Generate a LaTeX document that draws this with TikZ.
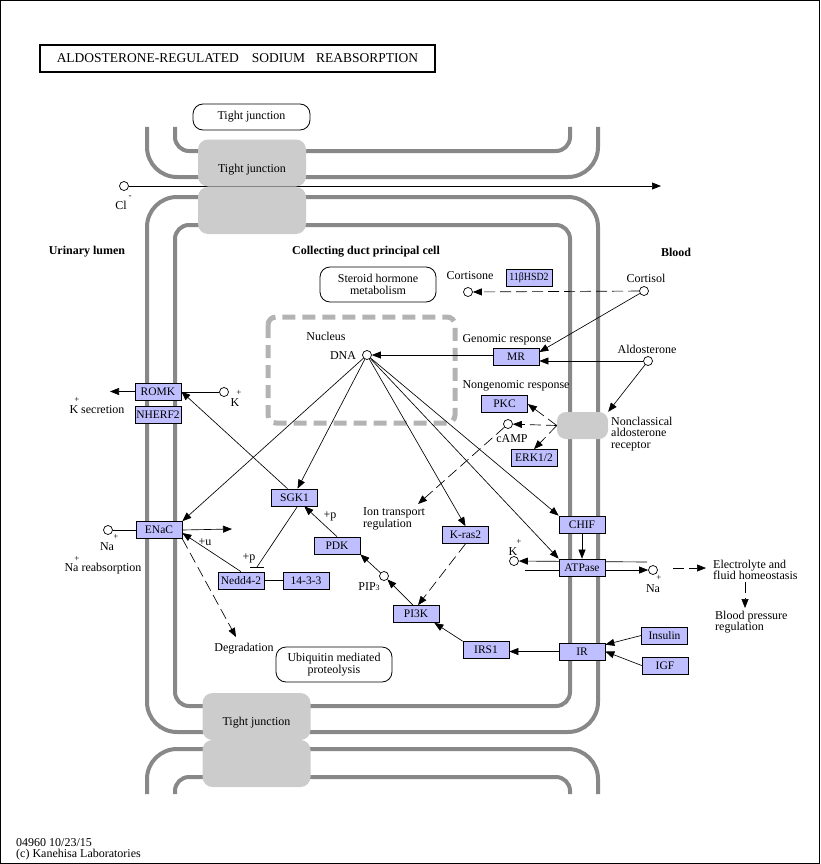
\documentclass[tikz,border=0pt]{standalone}
\usepackage{fontspec}
\setmainfont{Liberation Serif}
\usetikzlibrary{arrows.meta,calc}
\pgfdeclarelayer{background}
\pgfdeclarelayer{conn}
\pgfsetlayers{background,conn,main}
\definecolor{genefill}{HTML}{BFBFFF}
\definecolor{memgray}{HTML}{888888}
\definecolor{tjgray}{HTML}{CCCCCC}
\definecolor{nucgray}{HTML}{B3B3B3}
\newcommand{\kfont}{\fontsize{12}{11.3}\selectfont}
\newcommand{\kgfont}{\fontsize{11.5}{11.5}\selectfont}
\newcommand{\kbold}{\fontsize{12}{11.3}\selectfont\bfseries}
\begin{document}
\begin{tikzpicture}[x=1pt,y=-1pt,
  gene/.style={draw, fill=genefill, minimum width=46pt, minimum height=17pt, inner sep=0pt, font=\kgfont, line width=0.7pt},
  cpd/.style={circle, draw, fill=white, minimum size=9pt, inner sep=0pt, line width=0.7pt},
  lbl/.style={inner sep=0pt, font=\kfont, align=center},
  lbll/.style={inner sep=0pt, font=\kfont, align=left, anchor=west},
  bl/.style={inner sep=0pt, font=\kbold},
  sup/.style={inner sep=0pt, font=\fontsize{9}{9}\selectfont},
  act/.style={-{Triangle[length=9pt,width=7pt]}, line width=0.65pt},
  dsh/.style={act, dash pattern=on 11pt off 5pt},
  plain/.style={line width=0.65pt},
  mem/.style={draw=memgray, line width=4pt},
  tj/.style={fill=tjgray, rounded corners=10pt, minimum width=108pt, minimum height=47pt, inner sep=0pt},
  rbox/.style={draw, rounded corners=10pt, line width=0.8pt, inner sep=0pt, font=\kfont, align=center}]
\useasboundingbox (0,0) rectangle (820,864);
\draw[line width=1pt] (0.5,0.5) rectangle (819.5,863.5);

% membranes
\begin{pgfonlayer}{background}
\draw[mem, rounded corners=30pt] (147,127) -- (147,177) -- (598,177) -- (598,127);
\draw[mem, rounded corners=14pt] (175,127) -- (175,151) -- (570,151) -- (570,127);
\draw[mem, rounded corners=30pt] (147,197) rectangle (598,732);
\draw[mem, rounded corners=14pt] (175,225) rectangle (570,706);
\draw[mem, rounded corners=30pt] (147,794) -- (147,749) -- (598,749) -- (598,794);
\draw[mem, rounded corners=14pt] (175,794) -- (175,777) -- (570,777) -- (570,794);
\draw[draw=nucgray, line width=5pt, dash pattern=on 13pt off 7pt, rounded corners=8pt] (268,317) rectangle (455,423);
\end{pgfonlayer}

% title
\node[draw, line width=1.6pt, minimum width=395pt, minimum height=27pt, inner sep=0pt, font=\fontsize{13.5}{13.5}\selectfont] (title) at (237.5,58.5) {ALDOSTERONE-REGULATED\hspace{13pt}SODIUM\hspace{11pt}REABSORPTION};

% tight junctions
\node[tj] (tj1) at (252,163) {};
\node[tj] (tj2) at (252,210.5) {};
\node[tj] (tj3) at (256.5,716.5) {};
\node[tj] (tj4) at (256.5,763.5) {};
\node[lbl] (tj1t) at (252,170) {Tight junction};
\node[lbl] (tj3t) at (256.5,723) {Tight junction};
\node[rbox, minimum width=117pt, minimum height=26pt] (tjtop) at (251.5,117) {Tight junction};
\node[rbox, minimum width=116pt, minimum height=35pt] (steroid) at (378,284.5) {Steroid hormone\\metabolism};
\node[rbox, minimum width=116pt, minimum height=35pt] (ubiq) at (334,664.5) {Ubiquitin mediated\\proteolysis};
\node[fill=tjgray, rounded corners=9pt, minimum width=51pt, minimum height=27pt, inner sep=0pt] (ncr) at (582.5,425.5) {};

% region labels
\node[bl] (ul) at (87,252) {Urinary lumen};
\node[bl] (cdpc) at (366,252) {Collecting duct principal cell};
\node[bl] (blood) at (676,252) {Blood};

% compounds
\node[cpd] (cl) at (124,186) {};
\node[cpd] (cortisone) at (468,292) {};
\node[cpd] (cortisol) at (644,291) {};
\node[cpd] (aldo) at (648,361) {};
\node[cpd] (dna) at (367,355) {};
\node[cpd] (camp) at (508,424) {};
\node[cpd] (kR) at (224,392) {};
\node[cpd] (naE) at (108,530) {};
\node[cpd] (pip) at (384,576) {};
\node[cpd] (kA) at (514,561) {};
\node[cpd] (naA) at (653,570) {};

% genes
\node[gene] (ROMK) at (158,391.5) {ROMK};
\node[gene] (NHERF) at (158,415) {NHERF2};
\node[gene] (ENaC) at (159,530) {ENaC};
\node[gene] (SGK1) at (294.5,497.5) {SGK1};
\node[gene] (nedd) at (241,580.5) {Nedd4-2};
\node[gene] (f1433) at (306,580.5) {14-3-3};
\node[gene] (PDK) at (337,545.5) {PDK};
\node[gene] (Kras) at (465.5,535) {K-ras2};
\node[gene] (PI3K) at (416,614) {PI3K};
\node[gene] (IRS1) at (486,650) {IRS1};
\node[gene] (IR) at (582,651.5) {IR};
\node[gene] (Insulin) at (664.5,635.5) {Insulin};
\node[gene] (IGF) at (665,665.5) {IGF};
\node[gene] (CHIF) at (582,524.5) {CHIF};
\node[gene] (ATPase) at (582,567.5) {ATPase};
\node[gene] (MR) at (516,357) {MR};
\node[gene] (PKC) at (504.5,404) {PKC};
\node[gene] (ERK) at (534,458) {ERK1/2};
\node[gene, font=\fontsize{11}{11}\selectfont] (HSD) at (529,278) {\scalebox{0.9}[1]{11βHSD2}};

% text labels
\node[lbl] (cortisoneT) at (470,276) {Cortisone};
\node[lbl] (cortisolT) at (646,278) {Cortisol};
\node[lbl] (aldoT) at (647,349) {Aldosterone};
\node[lbl] (genT) at (507,340) {Genomic response};
\node[lbl] (nongenT) at (516,386) {Nongenomic response};
\node[lbll] (ncrT) at (611,434) {Nonclassical\\aldosterone\\receptor};
\node[lbl] (campT) at (512,439) {cAMP};
\node[lbl] (nucT) at (326,336) {Nucleus};
\node[lbl] (dnaT) at (343,356) {DNA};
\node[lbl] (ksecT) at (97,410) {K secretion};
\node[sup] (ksecP) at (77,400) {+};
\node[lbl] (kRT) at (235,403) {K};
\node[sup] (kRP) at (239,393) {+};
\node[lbl] (naET) at (107,547) {Na};
\node[sup] (naEP) at (116,537) {+};
\node[lbl] (nareabT) at (103,569) {Na reabsorption};
\node[sup] (nareabP) at (77,559) {+};
\node[lbl] (clT) at (121,205) {Cl};
\node[sup] (clP) at (130,197) {-};
\node[lbl] (pipT) at (369,587) {PIP{\fontsize{8}{8}\selectfont 3}};
\node[lbl] (kAT) at (513,552) {K};
\node[sup] (kAP) at (519,542) {+};
\node[lbl] (naAT) at (653,589) {Na};
\node[sup] (naAP) at (659,578) {+};
\node[lbl] (p1) at (249,558) {+p};
\node[lbl] (u1) at (205,542) {+u};
\node[lbl] (p2) at (330,516) {+p};
\node[lbl] (degT) at (244,649) {Degradation};
\node[lbll] (ionT) at (363,519) {Ion transport\\regulation};
\node[lbll] (elecT) at (713,570) {Electrolyte and\\fluid homeostasis};
\node[lbll] (bpT) at (715,622) {Blood pressure\\regulation};
\node[lbll] (foot) at (16,849) {04960 10/23/15\\(c) Kanehisa Laboratories};

% free ends
\coordinate (clend) at (661,186);
\coordinate (kout) at (110,391.5);
\coordinate (naout) at (232,529);
\coordinate (nbar) at (257,567);
\coordinate (degtip) at (236,637);
\coordinate (iontip) at (418,504);
\coordinate (atpT) at (647,562);
\coordinate (atpB) at (525,570);
\coordinate (elS) at (673,568);
\coordinate (elE) at (706,568);
\coordinate (bpS) at (745,582);
\coordinate (bpE) at (745,608);

\begin{pgfonlayer}{conn}
\draw[act] (cl) -- (clend);
\draw[dsh] (cortisol) -- (cortisone);
\draw[act] (cortisol) -- (MR.12);
\draw[act] (aldo) -- (MR.east |- aldo);
\draw[act] (aldo) -- (ncr.north east);
\draw[act] (MR.west |- dna) -- (dna);
\draw[dsh] (ncr.west) -- (PKC.east);
\draw[dsh] (ncr.west) -- (camp);
\draw[dsh] (ncr.west) -- (ERK.north);
\draw[dsh] (camp) -- (iontip);
\draw[act] (dna) -- (ENaC.north east);
\draw[act] (dna) -- ([xshift=3pt]SGK1.north);
\draw[act] (dna) -- (Kras.north);
\draw[act] (dna) -- (CHIF.north west);
\draw[act] (dna) -- (ATPase.north west);
\draw[plain] (kR) -- (ROMK.east |- kR);
\draw[act] (ROMK.west) -- (kout);
\draw[act] ([xshift=-7pt]SGK1.north) -- (ROMK.east);
\draw[plain] (naE) -- (ENaC.west);
\draw[act] (ENaC.east) -- (naout);
\draw[plain] ([xshift=3pt]SGK1.south) -- (nbar);
\draw[plain] ([xshift=-7pt]nbar) -- ([xshift=7pt]nbar);
\draw[act] (nedd.north) -- ([yshift=-3pt]ENaC.east);
\draw[dsh] (ENaC.south east) -- (degtip);
\draw[plain] (nedd) -- (f1433);
\draw[act] (PDK.north) -- (SGK1.-42);
\draw[act] (pip) -- (PDK.south east);
\draw[act] ([xshift=-3pt]PI3K.north) -- (pip);
\draw[dsh] (Kras.south) -- ([xshift=2pt]PI3K.north);
\draw[act] (IRS1.north west) -- ([xshift=-5pt]PI3K.south east);
\draw[act] (IR.west) -- (IR.west -| IRS1.east);
\draw[act] (Insulin.west) -- ([yshift=-2pt]IR.north east);
\draw[act] (IGF.west) -- (IR.east);
\draw[act] (CHIF.south) -- (ATPase.north);
\draw[act] (atpT) -- (kA);
\draw[act] (atpB) -- (naA);
\draw[dsh] (elS) -- (elE);
\draw[dsh] (bpS) -- (bpE);
\end{pgfonlayer}
\end{tikzpicture}
\end{document}
